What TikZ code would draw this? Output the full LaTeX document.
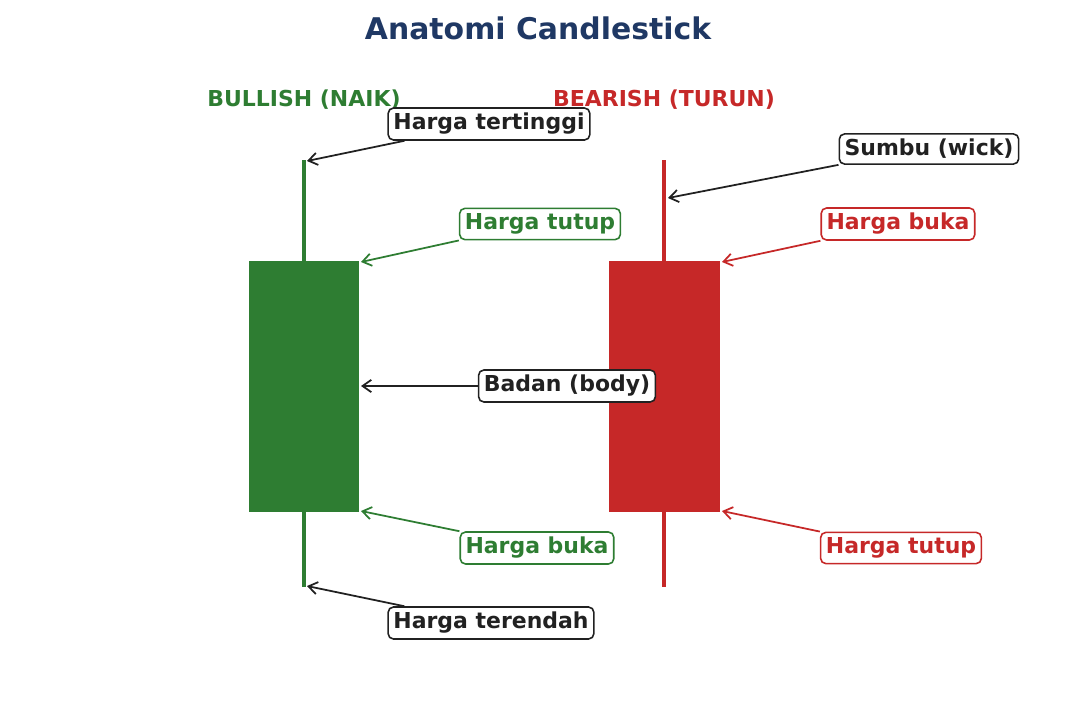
\documentclass[tikz,border=0pt]{standalone}
\usepackage{fontspec}
\setmainfont{DejaVu Sans}
\usetikzlibrary{arrows.meta}
\definecolor{bullgreen}{HTML}{2E7D32}
\definecolor{bearred}{HTML}{C62828}
\definecolor{titleblue}{HTML}{1F3864}
\definecolor{inkdark}{HTML}{212121}
\tikzset{
  lbl/.style={draw=#1, text=#1, fill=white, rounded corners=3pt, line width=0.9pt,
    font=\fontsize{12.5}{14}\selectfont\bfseries, inner sep=3pt},
  pointer/.style={draw=#1, line width=1pt, -{Straight Barb[length=5pt,width=7pt]}}
}
\begin{document}
\begin{tikzpicture}[x=0.02cm, y=-0.02cm]
  \useasboundingbox (0,0) rectangle (1076,701);
  % Titles
  \node (title) at (538,28) [text=titleblue, font=\fontsize{17}{20}\selectfont\bfseries] {Anatomi Candlestick};
  \node (bull) at (304,100) [text=bullgreen, font=\fontsize{12.5}{14}\selectfont\bfseries] {BULLISH (NAIK)};
  \node (bear) at (664,100) [text=bearred, font=\fontsize{12.5}{14}\selectfont\bfseries] {BEARISH (TURUN)};

  % Candles
  \draw[bullgreen, line width=2.2pt] (304,160) -- (304,587);
  \fill[bullgreen] (249,261) rectangle (359,512);
  \draw[bearred, line width=2.2pt] (664,160) -- (664,587);
  \fill[bearred] (609,261) rectangle (720,512);

  % Targets
  \coordinate (high) at (307,161);
  \coordinate (wick) at (668,198);
  \coordinate (gclose) at (361,262);
  \coordinate (ropen) at (722,262);
  \coordinate (body) at (361,386);
  \coordinate (gopen) at (361,511);
  \coordinate (rclose) at (722,511);
  \coordinate (low) at (307,586);

  % Labels
  \node (lhigh) at (489,124) [lbl=inkdark] {Harga tertinggi};
  \node (lwick) at (929,149) [lbl=inkdark] {Sumbu (wick)};
  \node (lgclose) at (540,224) [lbl=bullgreen] {Harga tutup};
  \node (lropen) at (898,224) [lbl=bearred] {Harga buka};
  \node (lbody) at (567,386) [lbl=inkdark] {Badan (body)};
  \node (lgopen) at (537,548) [lbl=bullgreen] {Harga buka};
  \node (lrclose) at (901,548) [lbl=bearred] {Harga tutup};
  \node (llow) at (491,623) [lbl=inkdark] {Harga terendah};

  % Pointers
  \draw[pointer=inkdark] ([xshift=17*0.02cm]lhigh.south west) -- (high);
  \draw[pointer=inkdark] (lwick.south west) -- (wick);
  \draw[pointer=bullgreen] (lgclose.south west) -- (gclose);
  \draw[pointer=bearred] (lropen.south west) -- (ropen);
  \draw[pointer=inkdark] (lbody.west) -- (body);
  \draw[pointer=bullgreen] (lgopen.north west) -- (gopen);
  \draw[pointer=bearred] (lrclose.north west) -- (rclose);
  \draw[pointer=inkdark] ([xshift=17*0.02cm]llow.north west) -- (low);
\end{tikzpicture}
\end{document}
